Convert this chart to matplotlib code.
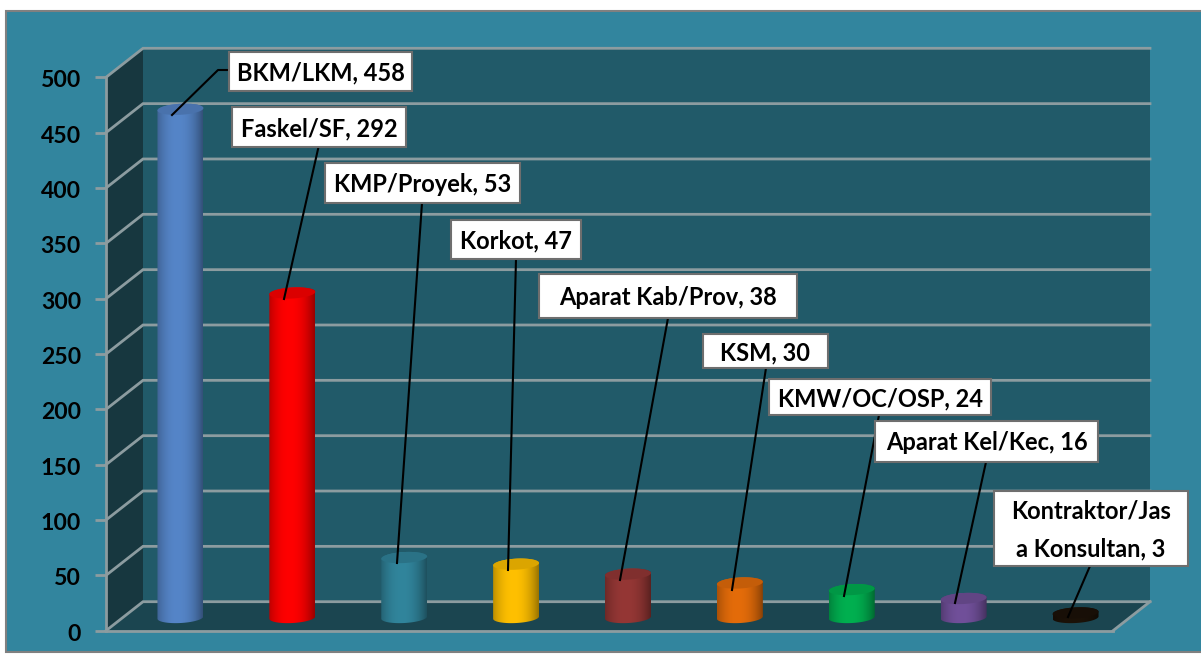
import numpy as np
import matplotlib
matplotlib.use("Agg")
import matplotlib.pyplot as plt
from matplotlib.patches import Polygon, Rectangle
from matplotlib.colors import to_rgb
from matplotlib.transforms import Affine2D, ScaledTranslation

categories = ["BKM/LKM", "Faskel/SF", "KMP/Proyek", "Korkot", "Aparat Kab/Prov",
              "KSM", "KMW/OC/OSP", "Aparat Kel/Kec", "Kontraktor/Jas\na Konsultan"]
values = [458, 292, 53, 47, 38, 30, 24, 16, 3]
colors = ["#5585C8", "#FF0000", "#31859C", "#FFC000", "#953735",
          "#E46C0A", "#00B050", "#71509A", "#1C1208"]
yticks = [0, 50, 100, 150, 200, 250, 300, 350, 400, 450, 500]

W, H = 1201, 657
plt.rcParams['font.family'] = ['Lato', 'DejaVu Sans']
fig = plt.figure(figsize=(W / 100, H / 100), dpi=100, facecolor="white")
px = Affine2D().scale(1 / W, -1 / H).translate(0, 1) + fig.transFigure

PANEL = "#32859E"
fig.add_artist(Rectangle((6, 11), 1200, 641, transform=px, fc=PANEL, ec="#808080", lw=1.5, zorder=-1))

x0, x1, ytop, ybot = 106, 1113, 77.3, 630.7
ax = fig.add_axes([x0 / W, 1 - ybot / H, (x1 - x0) / W, (ybot - ytop) / H], zorder=1)
ax.patch.set_visible(False)
n = len(values)
ax.set_xlim(0, n)
ax.set_ylim(0, 500)
dx = 37 / ((x1 - x0) / n)
dy = 29 / ((ybot - ytop) / 500)

GRID = "#8C9CA0"
ax.add_patch(Rectangle((dx, dy), n, 500, fc="#215A69", ec="none", zorder=1, clip_on=False))
ax.add_patch(Polygon([(0, 0), (dx, dy), (dx, 500 + dy), (0, 500)], fc="#17373F", ec="none", zorder=1, clip_on=False))
ax.add_patch(Polygon([(0, 0), (n, 0), (n + dx, dy), (dx, dy)], fc="#1B4550", ec="none", zorder=1, clip_on=False))
for v in yticks:
    ax.plot([0, dx, n + dx], [v, v + dy, v + dy], color=GRID, lw=2, zorder=2, clip_on=False, solid_joinstyle="miter")
ax.plot([n, n + dx], [0, dy], color=GRID, lw=2, zorder=2, clip_on=False)

w = 0.411
ry = 5.5 / ((ybot - ytop) / 500)
tilt = 1.2 / ((ybot - ytop) / 500)
t = np.linspace(0, 2 * np.pi, 80)

def shade(col, f):
    return tuple(c * f for c in to_rgb(col))

for i, (v, col) in enumerate(zip(values, colors)):
    cx = i + 0.5 + dx / 2
    yb = dy / 2 - 1.2
    yt = v + dy / 2
    rx = w / 2
    ex = rx * np.cos(t)
    ey = ry * np.sin(t) + tilt * np.cos(t)
    ang_b = np.linspace(np.pi, 2 * np.pi, 40)
    ang_t = np.linspace(0, np.pi, 40)
    xs = np.r_[cx + rx * np.cos(ang_b), cx + rx * np.cos(ang_t)]
    ys = np.r_[yb + ry * np.sin(ang_b) + tilt * np.cos(ang_b), yt + ry * np.sin(ang_t) + tilt * np.cos(ang_t)]
    body = Polygon(np.c_[xs, ys], closed=True, transform=ax.transData, fc="none", ec="none", clip_on=False)
    ax.add_patch(body)
    s = np.linspace(-1, 1, 64)
    f = 0.68 + 0.32 * (1 - np.abs(s + 0.1) ** 2.2)
    grad = np.array([[shade(col, a) for a in f]])
    im = ax.imshow(grad, extent=(cx - rx, cx + rx, yb - ry - tilt, yt + ry + tilt), aspect="auto",
                   zorder=3, interpolation="bilinear")
    im.set_clip_path(body)
    ax.add_patch(Polygon(np.c_[cx + ex, yt + ey], closed=True, fc=shade(col, 0.86), ec="none", zorder=4, clip_on=False))
ax.set_xlim(0, n)
ax.set_ylim(0, 500)

for s_ in ["top", "right"]:
    ax.spines[s_].set_visible(False)
for s_ in ["left", "bottom"]:
    ax.spines[s_].set_color(GRID)
    ax.spines[s_].set_linewidth(2)
    ax.spines[s_].set_zorder(5)
ax.set_xticks([])
ax.set_yticks(yticks)
ax.tick_params(axis="y", length=8, width=2, color=GRID, pad=10)
shift = ScaledTranslation(0, -1.5 / 100, fig.dpi_scale_trans)
for lab in ax.get_yticklabels():
    lab.set_fontsize(16.6)
    lab.set_fontweight("bold")
    lab.set_color("black")
    lab.set_transform(lab.get_transform() + shift)

boxes = [(229, 52, 412, 91), (232, 107, 406, 147), (325, 163, 520, 203), (451, 220, 581, 259),
         (539, 274, 797, 318), (703, 334, 828, 368), (769, 379, 991, 415), (875, 421, 1098, 462),
         (994, 491, 1188, 566)]
leaders = [[(172, 115), (218, 70), (229, 70)], [(284, 299), (318.5, 147)], [(397, 563), (422, 203)],
           [(508, 570), (516, 259)], [(620, 580), (668, 318)], [(732, 590), (766, 368)],
           [(844, 596), (879, 415)], [(955, 603), (986, 462)], [(1068, 617), (1090, 566)]]
for ld in leaders:
    a = np.array(ld)
    fig.add_artist(plt.Line2D(a[:, 0], a[:, 1], transform=px, color="black", lw=1.5, zorder=6))
for (l, tp, r, b), c, v in zip(boxes, categories, values):
    fig.add_artist(Rectangle((l, tp), r - l, b - tp, transform=px, fc="white", ec="#6E6E6E", lw=1.5, zorder=7))
    fig.text(*fig.transFigure.inverted().transform(px.transform(((l + r) / 2, (tp + b) / 2 + 1.5))), f"{c}, {v}", ha="center",
             va="center", fontsize=17, fontweight="bold", color="black", zorder=8, linespacing=1.75)

fig.savefig("out.png", dpi=100)
